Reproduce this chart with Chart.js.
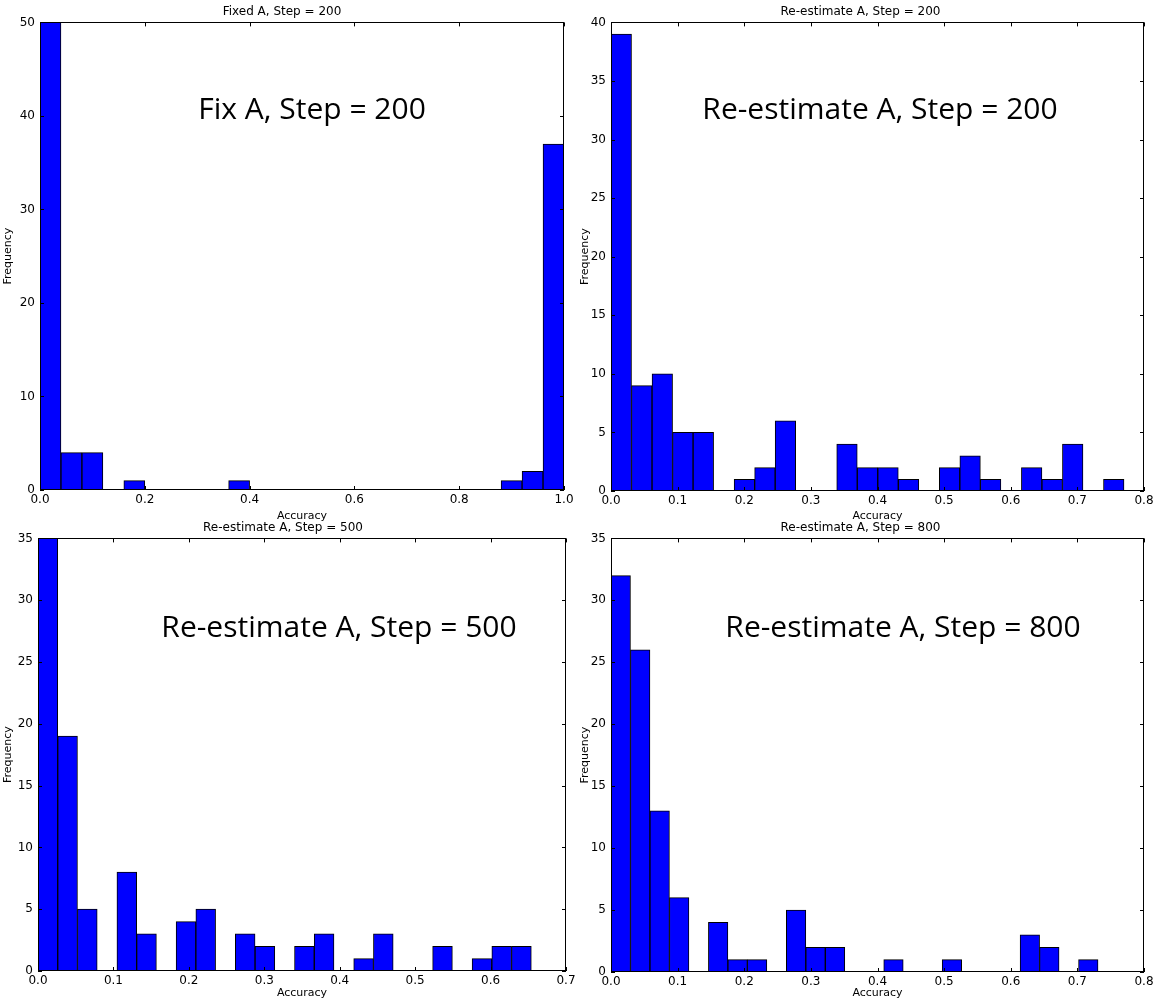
<!DOCTYPE html>
<html><head><meta charset="utf-8">
<script src="https://cdn.jsdelivr.net/npm/chart.js@4.4.1/dist/chart.umd.min.js"></script>
<style>
html,body{margin:0;padding:0;background:#fff;}
body{width:1155px;height:1002px;position:relative;overflow:hidden;}
canvas{position:absolute;}
.ann{position:absolute;font-family:"Open Sans",sans-serif;font-size:30px;color:#000;white-space:nowrap;transform:translate(-50%,-50%);line-height:1;}
</style></head><body>
<canvas id="c1" width="577" height="525" style="left:0;top:0"></canvas>
<canvas id="c2" width="578" height="525" style="left:577px;top:0"></canvas>
<canvas id="c3" width="577" height="486" style="left:0;top:516px"></canvas>
<canvas id="c4" width="578" height="486" style="left:577px;top:516px"></canvas>
<div class="ann" style="left:312px;top:108px">Fix A, Step = 200</div>
<div class="ann" style="left:880px;top:108px">Re-estimate A, Step = 200</div>
<div class="ann" style="left:339px;top:626px">Re-estimate A, Step = 500</div>
<div class="ann" style="left:903px;top:626px">Re-estimate A, Step = 800</div>
<script>
// ---- data ----
const titles = ["Fixed A, Step = 200", "Re-estimate A, Step = 200", "Re-estimate A, Step = 500", "Re-estimate A, Step = 800"];
// histogram ranges [low, high] of 25 bins each
const fixed200Range = [0, 1.0];
const reest200Range = [0, 0.770];
const reest500Range = [0, 0.654];
const reest800Range = [0, 0.731];
const fixed200Counts = [50,4,4,0,1,0,0,0,0,1,0,0,0,0,0,0,0,0,0,0,0,0,1,2,37];
const reest200Counts = [39,9,10,5,5,0,1,2,6,0,0,4,2,2,1,0,2,3,1,0,2,1,4,0,1];
const reest500Counts = [35,19,5,0,8,3,0,4,5,0,3,2,0,2,3,0,1,3,0,0,2,0,1,2,2];
const reest800Counts = [32,26,13,6,0,4,1,1,0,5,2,2,0,0,1,0,0,1,0,0,0,3,2,0,1];
// axis tick settings: [min, max, step]
const fixed200XTicks = [0, 1.0, 0.2];
const reest200XTicks = [0, 0.8, 0.1];
const reest500XTicks = [0, 0.7, 0.1];
const reest800XTicks = [0, 0.8, 0.1];
const fixed200YTicks = [0, 50, 10];
const reest200YTicks = [0, 40, 5];
const reest500YTicks = [0, 35, 5];
const reest800YTicks = [0, 35, 5];
const xLabel = "Accuracy";
const yLabel = "Frequency";

const framePlugin = {
  id: 'frame',
  afterDatasetsDraw(chart) {
    const {ctx, chartArea: {left, right, top, bottom}, scales: {x, y}} = chart;
    ctx.save();
    ctx.strokeStyle = '#000';
    ctx.lineWidth = 1;
    const L = 4;
    ctx.beginPath();
    x.ticks.forEach(t => {
      const px = Math.round(x.getPixelForValue(t.value)) + 0.5;
      ctx.moveTo(px, bottom); ctx.lineTo(px, bottom - L);
      ctx.moveTo(px, top); ctx.lineTo(px, top + L);
    });
    y.ticks.forEach(t => {
      const py = Math.round(y.getPixelForValue(t.value)) + 0.5;
      ctx.moveTo(left, py); ctx.lineTo(left + L, py);
      ctx.moveTo(right, py); ctx.lineTo(right - L, py);
    });
    ctx.stroke();
    ctx.strokeRect(Math.round(left) + 0.5, Math.round(top) + 0.5, Math.round(right - left) - 1, Math.round(bottom - top) - 1);
    ctx.restore();
  }
};

function makeHist(id, title, range, counts, xt, yt, box) {
  const n = counts.length;
  const w = (range[1] - range[0]) / n;
  const data = counts.map((c, i) => ({x: range[0] + (i + 0.5) * w, y: c}));
  const canvas = document.getElementById(id);
  const H = canvas.height, W = canvas.width;
  new Chart(canvas, {
    type: 'bar',
    data: {datasets: [{
      data, backgroundColor: '#0000ff', borderColor: '#000', borderWidth: 1,
      borderSkipped: false, barPercentage: 1, categoryPercentage: 1
    }]},
    options: {
      responsive: false, animation: false, devicePixelRatio: 1,
      layout: {padding: {left: 0, right: W - box.R, top: 0, bottom: 0}},
      plugins: {
        legend: {display: false}, tooltip: {enabled: false},
        title: {display: true, text: title, color: '#000',
          font: {family: 'DejaVu Sans', size: 12, weight: 'normal'}, padding: {top: 5, bottom: 3}}
      },
      scales: {
        x: {
          type: 'linear', min: xt[0], max: xt[1], offset: false,
          grid: {display: false, drawTicks: false, offset: false},
          border: {display: false},
          ticks: {stepSize: xt[2], color: '#000', padding: 3, autoSkip: false, maxRotation: 0,
            font: {family: 'DejaVu Sans', size: 12},
            callback: v => Number(v).toFixed(1)},
          title: {display: true, text: xLabel, color: '#000', font: {family: 'DejaVu Sans', size: 11}, padding: {top: 0, bottom: 2}},
          afterFit: s => { s.height = H - box.B; s.paddingLeft = 0; s.paddingRight = 0; }
        },
        y: {
          min: yt[0], max: yt[1],
          grid: {display: false, drawTicks: false},
          border: {display: false},
          ticks: {stepSize: yt[2], color: '#000', padding: 5, autoSkip: false,
            font: {family: 'DejaVu Sans', size: 12}},
          title: {display: true, text: yLabel, color: '#000', font: {family: 'DejaVu Sans', size: 11}, padding: {top: 2, bottom: 0}},
          afterFit: s => { s.width = box.L; s.paddingTop = 0; s.paddingBottom = 0; }
        }
      }
    },
    plugins: [framePlugin]
  });
}

makeHist('c1', titles[0], fixed200Range, fixed200Counts, fixed200XTicks, fixed200YTicks, {L: 40, R: 564, B: 490});
makeHist('c2', titles[1], reest200Range, reest200Counts, reest200XTicks, reest200YTicks, {L: 34, R: 567, B: 491});
makeHist('c3', titles[2], reest500Range, reest500Counts, reest500XTicks, reest500YTicks, {L: 38, R: 566, B: 455});
makeHist('c4', titles[3], reest800Range, reest800Counts, reest800XTicks, reest800YTicks, {L: 34, R: 567, B: 456});
</script>
</body></html>
